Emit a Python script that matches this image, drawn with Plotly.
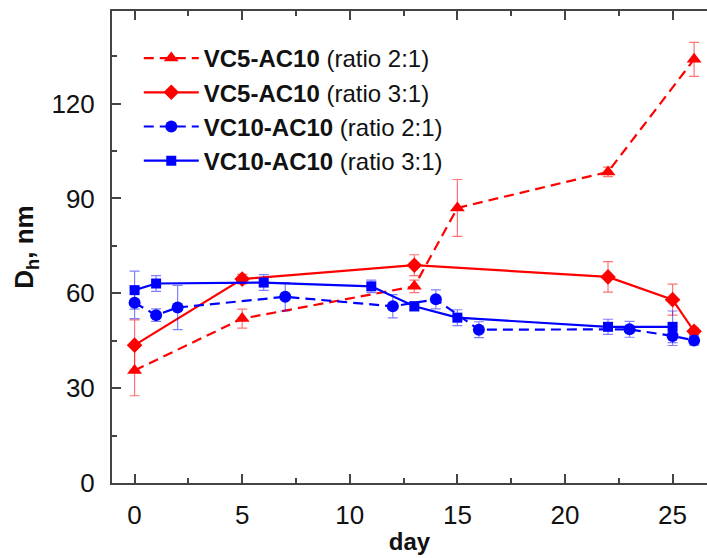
import plotly.graph_objects as go

# Hydrodynamic diameter over time for the four complex formulations
day_vc5_21 = [0, 5, 13, 15, 22, 26]
dh_vc5_21 = [35.6, 52.0, 62.2, 87.0, 98.4, 134.0]
err_vc5_21 = [8.0, 3.0, 2.0, 9.0, 1.5, 5.4]

day_vc5_31 = [0, 5, 13, 22, 25, 26]
dh_vc5_31 = [43.6, 64.5, 68.9, 65.2, 58.0, 48.0]
err_vc5_31 = [8.0, 1.5, 3.3, 4.8, 4.9, 1.0]

day_vc10_21 = [0, 1, 2, 7, 12, 14, 16, 23, 25, 26]
dh_vc10_21 = [57.0, 53.1, 55.5, 58.9, 55.9, 58.1, 48.5, 48.6, 46.5, 45.1]
err_vc10_21 = [5.0, 2.0, 7.0, 4.5, 3.7, 3.0, 2.5, 2.5, 3.0, 1.5]

day_vc10_31 = [0, 1, 6, 11, 13, 15, 22, 25]
dh_vc10_31 = [61.0, 63.1, 63.4, 62.2, 55.9, 52.3, 49.4, 49.4]
err_vc10_31 = [6.0, 2.5, 2.5, 2.0, 1.5, 2.5, 2.4, 5.0]

x_ticks = [0, 5, 10, 15, 20, 25]
y_ticks = [0, 30, 60, 90, 120]

RED = "#ff0000"
BLUE = "#0000ff"
RED_ERR = "rgba(255,0,0,0.55)"
BLUE_ERR = "rgba(0,0,255,0.5)"
FONT = "Liberation Sans, Arial, sans-serif"

series = [
    ("<b>VC5-AC10</b> (ratio 2:1)", day_vc5_21, dh_vc5_21, err_vc5_21,
     RED, RED_ERR, "10px,6px", "triangle-up", 13),
    ("<b>VC5-AC10</b> (ratio 3:1)", day_vc5_31, dh_vc5_31, err_vc5_31,
     RED, RED_ERR, "solid", "diamond", 12),
    ("<b>VC10-AC10</b> (ratio 2:1)", day_vc10_21, dh_vc10_21, err_vc10_21,
     BLUE, BLUE_ERR, "10px,6px", "circle", 12),
    ("<b>VC10-AC10</b> (ratio 3:1)", day_vc10_31, dh_vc10_31, err_vc10_31,
     BLUE, BLUE_ERR, "solid", "square", 10),
]

fig = go.Figure()
for name, xs, ys, es, col, ecol, dash, sym, size in series:
    fig.add_trace(go.Scatter(
        x=xs, y=ys, name=name, mode="lines+markers",
        line=dict(color=col, width=2.2, dash=dash),
        marker=dict(symbol=sym, size=size, color=col),
        error_y=dict(type="data", array=es, visible=True,
                     color=ecol, thickness=1.2, width=5),
    ))

axis_common = dict(
    showline=True, linecolor="#444", linewidth=2,
    ticks="inside", ticklen=9, tickwidth=2, tickcolor="#444",
    showgrid=False, zeroline=False,
    tickfont=dict(family=FONT, size=26, color="#111"),
)

fig.update_xaxes(
    **axis_common,
    range=[-1.05, 26.6], tickvals=x_ticks, mirror="allticks",
    minor=dict(dtick=2.5, tick0=0, ticks="inside", ticklen=5,
               tickwidth=2, tickcolor="#444"),
    ticklabelstandoff=8,
    title=dict(text="<b>day</b>", font=dict(family=FONT, size=24, color="#111"),
               standoff=4),
)
fig.update_yaxes(
    **axis_common,
    range=[0, 149.3], tickvals=y_ticks, mirror=False,
    minor=dict(dtick=15, tick0=0, ticks="inside", ticklen=5,
               tickwidth=2, tickcolor="#444"),
    ticklabelstandoff=10,
    title=dict(text="<b>D<sub>h</sub>, nm</b>",
               font=dict(family=FONT, size=26, color="#111"), standoff=10),
)

fig.update_layout(
    width=707, height=558,
    margin=dict(l=112, r=0, t=11, b=75),
    paper_bgcolor="white", plot_bgcolor="white",
    showlegend=True,
    legend=dict(x=0.045, y=0.947, xanchor="left", yanchor="top",
                bgcolor="rgba(0,0,0,0)", borderwidth=0,
                font=dict(family=FONT, size=24, color="#111"),
                itemwidth=55, tracegroupgap=0),
)

fig.write_html("out.html")
